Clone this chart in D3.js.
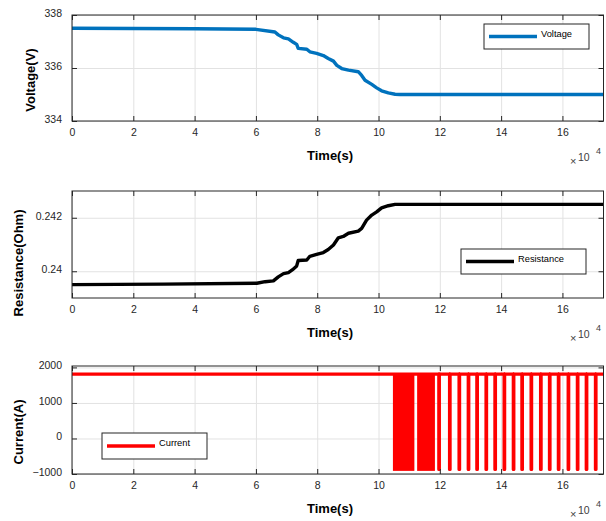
<!DOCTYPE html>
<html>
<head>
<meta charset="utf-8">
<script src="https://cdn.jsdelivr.net/npm/d3@7"></script>
<style>
body { margin: 0; background: #fff; }
svg { display: block; font-family: "Liberation Sans", Arial, sans-serif; }
</style>
</head>
<body>
<div id="canvas"></div>
<script>
"use strict"

/* Drawing config */
let svgWidth = 606;
let svgHeight = 521;
let plotLeft = 72;
let plotRight = 603.5;
let textColor = "#262626";

/* Data: time in seconds */
let xTicks = [0, 20000, 40000, 60000, 80000, 100000, 120000, 140000, 160000];

let voltageTime = [0, 20000, 40000, 60000, 66200, 67300, 69000, 70600, 72200, 73300,
    73800, 76600, 77600, 79800, 82000, 83600, 85300, 86400, 88000, 90200,
    93400, 94500, 95600, 97800, 99400, 101000, 103200, 105400, 107000, 173400];
let voltageValues = [337.5, 337.49, 337.48, 337.46, 337.36, 337.25, 337.14, 337.1, 336.97, 336.89,
    336.74, 336.71, 336.61, 336.55, 336.47, 336.36, 336.26, 336.1, 335.98, 335.92,
    335.86, 335.72, 335.54, 335.38, 335.25, 335.14, 335.06, 335.01, 335.0, 335.0];
let voltageTicks = [334, 336, 338];

let resTime = [0, 30000, 60300, 63000, 65700, 67300, 69000, 70600, 72200, 73300,
    73800, 76600, 77600, 79800, 82000, 83600, 85300, 86900, 88500, 90200,
    93400, 94500, 96100, 97800, 99400, 101000, 103200, 105400, 107000, 173400];
let resValues = [0.2395, 0.23952, 0.23955, 0.23961, 0.23964, 0.23979, 0.23991, 0.23995, 0.24008, 0.2402,
    0.2404, 0.24042, 0.24056, 0.24063, 0.2407, 0.24081, 0.24098, 0.24125, 0.2413, 0.24142,
    0.2415, 0.2416, 0.24191, 0.2421, 0.24222, 0.24237, 0.24245, 0.2425, 0.2425, 0.2425];
let resTicks = [0.24, 0.242];

let currentHigh = 1810;
let currentLow = -870;
let denseBands = [[104700, 111700], [112600, 118400]];   // fast switching blocks
let pulseTimes = [119700, 123200, 126300, 129300, 132100, 135100, 138000, 141000, 144000,
    146800, 149800, 152900, 155800, 158700, 161900, 164900, 167800, 170800];
let currentTicks = [-1000, 0, 1000, 2000];

/* Canvas */
let svg = d3.select("#canvas")
    .append("svg")
    .attr("width", svgWidth)
    .attr("height", svgHeight);

let xScale = d3.scaleLinear()
    .domain([0, 173400])
    .range([plotLeft, plotRight]);

let panels = [
    {id: "v", top: 15, bottom: 121, domain: [334, 338], ticks: voltageTicks,
        format: d3.format("d"), label: "Voltage(V)", labelX: 30, labelY: 80},
    {id: "r", top: 191, bottom: 298, domain: [0.239, 0.243], ticks: resTicks,
        format: d => String(+d.toFixed(3)), label: "Resistance(Ohm)", labelX: 18, labelY: 263},
    {id: "c", top: 366, bottom: 474, domain: [-1000, 2040], ticks: currentTicks,
        format: d3.format("d"), label: "Current(A)", labelX: 18, labelY: 432}
];

panels.forEach(function (p) {
    p.y = d3.scaleLinear().domain(p.domain).range([p.bottom, p.top]);

    // grid
    svg.append("g")
        .attr("transform", `translate(0,${p.bottom})`)
        .call(d3.axisBottom(xScale).tickValues(xTicks).tickSize(-(p.bottom - p.top)).tickFormat(""))
        .call(a => a.select(".domain").remove())
        .selectAll("line").attr("stroke", "#e2e2e2");
    svg.append("g")
        .attr("transform", `translate(${plotLeft},0)`)
        .call(d3.axisLeft(p.y).tickValues(p.ticks).tickSize(-(plotRight - plotLeft)).tickFormat(""))
        .call(a => a.select(".domain").remove())
        .selectAll("line").attr("stroke", "#e2e2e2");

    svg.append("clipPath")
        .attr("id", "clip-" + p.id)
        .append("rect")
        .attr("x", plotLeft)
        .attr("y", p.top - 3)
        .attr("width", plotRight - plotLeft)
        .attr("height", p.bottom - p.top + 6);

    p.layer = svg.append("g").attr("clip-path", `url(#clip-${p.id})`);
});

/* Voltage line */
let line = d3.line().x(d => xScale(d[0])).y(d => d[1]);

panels[0].layer.append("path")
    .attr("d", line(voltageTime.map((t, i) => [t, panels[0].y(voltageValues[i])])))
    .attr("fill", "none")
    .attr("stroke", "#0072BD")
    .attr("stroke-width", 3.4)
    .attr("stroke-linejoin", "round");

/* Resistance line */
panels[1].layer.append("path")
    .attr("d", line(resTime.map((t, i) => [t, panels[1].y(resValues[i])])))
    .attr("fill", "none")
    .attr("stroke", "#000")
    .attr("stroke-width", 3.4)
    .attr("stroke-linejoin", "round");

/* Current: base level plus pulses */
let cy = panels[2].y;
let currentPts = [[0, cy(currentHigh)]];
pulseTimes.forEach(function (t) {
    currentPts.push([t, cy(currentHigh)], [t, cy(currentLow)], [t + 120, cy(currentLow)], [t + 120, cy(currentHigh)]);
});
currentPts.push([173400, cy(currentHigh)]);

panels[2].layer.selectAll("rect.band")
    .data(denseBands)
    .join("rect")
    .attr("class", "band")
    .attr("x", d => xScale(d[0]))
    .attr("width", d => xScale(d[1]) - xScale(d[0]))
    .attr("y", cy(currentHigh))
    .attr("height", cy(currentLow) - cy(currentHigh) + 1.5)
    .attr("fill", "#FF0000");

panels[2].layer.append("path")
    .attr("d", line(currentPts))
    .attr("fill", "none")
    .attr("stroke", "#FF0000")
    .attr("stroke-width", 3.4)
    .attr("stroke-linejoin", "round");

/* Axes, box and labels on top */
panels.forEach(function (p) {
    let bottomAxis = svg.append("g")
        .attr("transform", `translate(0,${p.bottom})`)
        .call(d3.axisBottom(xScale).tickValues(xTicks).tickSize(-5).tickPadding(8)
            .tickFormat(d => String(d / 10000)));
    let leftAxis = svg.append("g")
        .attr("transform", `translate(${plotLeft},0)`)
        .call(d3.axisLeft(p.y).tickValues(p.ticks).tickSize(-5).tickPadding(10).tickFormat(p.format));
    svg.append("g")
        .attr("transform", `translate(0,${p.top})`)
        .call(d3.axisTop(xScale).tickValues(xTicks).tickSize(-5).tickFormat(""));
    svg.append("g")
        .attr("transform", `translate(${plotRight},0)`)
        .call(d3.axisRight(p.y).tickValues(p.ticks).tickSize(-5).tickFormat(""));

    leftAxis.selectAll("text").attr("dy", "0.13em");
    svg.selectAll(".domain").attr("stroke", "none");
    svg.selectAll(".tick line").filter(function () { return d3.select(this).attr("stroke") !== "#e2e2e2"; })
        .attr("stroke", textColor);
    [bottomAxis, leftAxis].forEach(a => a.selectAll("text")
        .attr("font-size", "10.5px")
        .attr("font-family", "Liberation Sans, Arial, sans-serif")
        .attr("fill", textColor));

    svg.append("rect")
        .attr("x", plotLeft)
        .attr("y", p.top)
        .attr("width", plotRight - plotLeft)
        .attr("height", p.bottom - p.top)
        .attr("fill", "none")
        .attr("stroke", textColor)
        .attr("stroke-width", 1);

    // y label
    svg.append("text")
        .attr("transform", `translate(${p.labelX},${p.labelY}) rotate(-90)`)
        .attr("text-anchor", "middle")
        .attr("dominant-baseline", "central")
        .attr("font-size", "13px")
        .attr("font-weight", "bold")
        .attr("fill", "#000")
        .text(p.label);

    // x label
    let ty = p.bottom + 34;
    svg.append("text")
        .attr("x", 330)
        .attr("y", ty)
        .attr("text-anchor", "middle")
        .attr("dominant-baseline", "central")
        .attr("font-size", "13px")
        .attr("font-weight", "bold")
        .attr("fill", "#000")
        .text("Time(s)");

    // exponent
    svg.append("text")
        .attr("x", 570)
        .attr("y", ty + 6)
        .attr("dominant-baseline", "central")
        .attr("font-size", "11px")
        .attr("fill", "#404040")
        .text("\u00d7");
    svg.append("text")
        .attr("x", 578)
        .attr("y", ty + 2)
        .attr("dominant-baseline", "central")
        .attr("font-size", "10.5px")
        .attr("fill", "#404040")
        .text("10");
    svg.append("text")
        .attr("x", 596)
        .attr("y", ty - 4)
        .attr("dominant-baseline", "central")
        .attr("font-size", "9px")
        .attr("fill", "#404040")
        .text("4");
});

/* Legends */
let legends = [
    {x: 484, y: 24, w: 105, h: 25, color: "#0072BD", name: "Voltage"},
    {x: 461, y: 249, w: 125, h: 25, color: "#000", name: "Resistance"},
    {x: 102, y: 433, w: 105, h: 26, color: "#FF0000", name: "Current"}
];

legends.forEach(function (l) {
    svg.append("rect")
        .attr("x", l.x)
        .attr("y", l.y)
        .attr("width", l.w)
        .attr("height", l.h)
        .attr("fill", "#fff")
        .attr("stroke", textColor)
        .attr("stroke-width", 1);
    svg.append("line")
        .attr("x1", l.x + 5)
        .attr("x2", l.x + 53)
        .attr("y1", l.y + l.h / 2)
        .attr("y2", l.y + l.h / 2)
        .attr("stroke", l.color)
        .attr("stroke-width", 3.4);
    svg.append("text")
        .attr("x", l.x + 57)
        .attr("y", l.y + l.h / 2 - 3)
        .attr("dominant-baseline", "central")
        .attr("font-size", "9.3px")
        .attr("fill", "#000")
        .text(l.name);
});
</script>
</body>
</html>
